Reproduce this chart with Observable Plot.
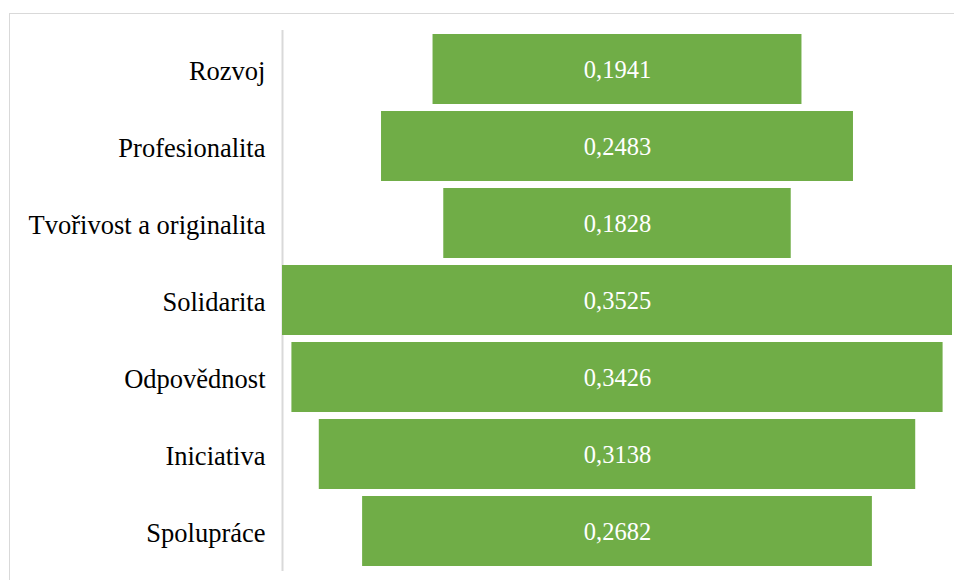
<!DOCTYPE html>
<html>
<head>
<meta charset="utf-8">
<script src="https://cdn.jsdelivr.net/npm/d3@7"></script>
<script src="https://cdn.jsdelivr.net/npm/@observablehq/plot@0.6"></script>
<style>
  html, body { margin: 0; padding: 0; background: #fff; }
  #wrap { position: relative; width: 954px; height: 580px; overflow: hidden; }
  #frame { position: absolute; left: 9px; top: 13px; width: 960px; height: 600px;
           border-left: 1px solid #d9d9d9; border-top: 1px solid #d9d9d9; box-sizing: border-box; }
  #chart { position: absolute; left: 0; top: 0; }
  #chart svg, #chart svg text { font-family: "Liberation Serif", "Times New Roman", serif !important; }
</style>
</head>
<body>
<div id="wrap"><div id="frame"></div><div id="chart"></div></div>
<script>
// Values by category, top to bottom
const categories = ["Rozvoj", "Profesionalita", "Tvořivost a originalita", "Solidarita", "Odpovědnost", "Iniciativa", "Spolupráce"];
const values = [0.1941, 0.2483, 0.1828, 0.3525, 0.3426, 0.3138, 0.2682];

const rows = categories.map((c, i) => ({category: c, value: values[i]}));
const maxV = d3.max(values);
const fmt = v => v.toFixed(4).replace(".", ",");

const chart = Plot.plot({
  width: 954,
  height: 580,
  marginLeft: 282,
  marginRight: 2,
  marginTop: 30,
  marginBottom: 9,
  style: {background: "transparent"},
  x: {domain: [-maxV / 2, maxV / 2], axis: null},
  y: {domain: categories, paddingInner: 0.09, paddingOuter: 0.03, label: null},
  marks: [
    Plot.ruleX([-maxV / 2], {stroke: "#d9d9d9", strokeWidth: 2}),
    // funnel bars centred on zero
    Plot.barX(rows, {y: "category", x1: d => -d.value / 2, x2: d => d.value / 2, fill: "#70ad47"}),
    Plot.text(rows, {y: "category", x: 0, text: d => fmt(d.value), fill: "white", fontSize: 24.5, dy: 1}),
    Plot.axisY({tickSize: 0, tickPadding: 17, fontSize: 26.5, fill: "black", label: null, dy: 2})
  ]
});
document.getElementById("chart").appendChild(chart);
</script>
</body>
</html>
